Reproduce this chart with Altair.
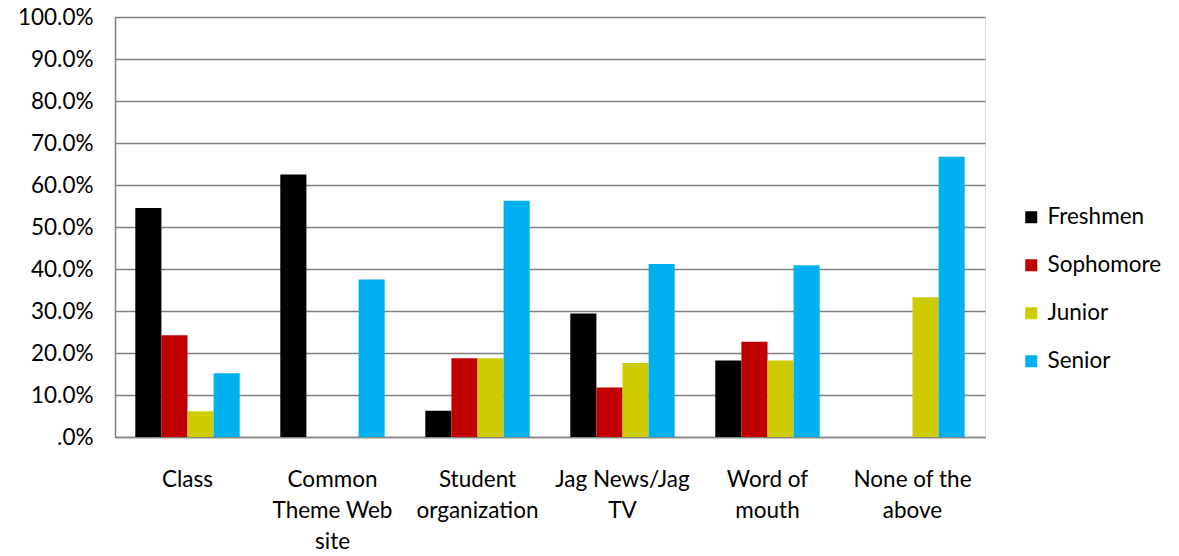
import altair as alt
import pandas as pd

categories = ["Class", "Common Theme Web site", "Student organization",
              "Jag News/Jag TV", "Word of mouth", "None of the above"]
cat_labels = ["Class", "Common|Theme Web|site", "Student|organization",
              "Jag News/Jag|TV", "Word of|mouth", "None of the|above"]
series = ["Freshmen", "Sophomore", "Junior", "Senior"]
freshmen = [54.5, 62.5, 6.25, 29.4, 18.2, 0.0]
sophomore = [24.2, 0.0, 18.75, 11.8, 22.7, 0.0]
junior = [6.1, 0.0, 18.75, 17.6, 18.2, 33.3]
senior = [15.2, 37.5, 56.25, 41.2, 40.9, 66.7]
colors = ["#000000", "#C00000", "#CCCC00", "#00B0F0"]

rows = []
for s, vals in zip(series, [freshmen, sophomore, junior, senior]):
    for c, lab, v in zip(categories, cat_labels, vals):
        rows.append({"cat": lab, "series": s, "value": v})
df = pd.DataFrame(rows)

FONT = "Lato"
FS = 22.5

chart = alt.Chart(df).mark_bar().encode(
    x=alt.X("cat:N", sort=cat_labels, title=None,
            scale=alt.Scale(paddingInner=0.28, paddingOuter=0.14),
            axis=alt.Axis(labelAngle=0, labelExpr="split(datum.label, '|')",
                          labelFontSize=FS, labelFont=FONT, labelColor="#000",
                          labelLineHeight=31, labelPadding=31, ticks=False,
                          domainColor="#868686", domainWidth=1.5,
                          labelBaseline="top")),
    xOffset=alt.XOffset("series:N", sort=series, scale=alt.Scale(paddingInner=0, paddingOuter=0)),
    y=alt.Y("value:Q", title=None,
            scale=alt.Scale(domain=[0, 100], nice=False),
            axis=alt.Axis(values=list(range(0, 101, 10)),
                          labelExpr="datum.value == 0 ? '.0%' : format(datum.value, '.1f') + '%'",
                          labelFontSize=FS, labelFont=FONT, labelColor="#000",
                          labelPadding=22, ticks=False, grid=True,
                          gridColor="#808080", gridWidth=1.5,
                          domainColor="#808080", domainWidth=1.5)),
    color=alt.Color("series:N", sort=series,
                    scale=alt.Scale(domain=series, range=colors),
                    legend=alt.Legend(title=None, orient="none", legendX=905, legendY=189,
                                      symbolType="square", symbolSize=144,
                                      symbolStrokeWidth=0,
                                      labelFontSize=FS, labelFont=FONT, labelColor="#000",
                                      rowPadding=25, labelOffset=5)),
).properties(
    width=870, height=420,
    autosize=alt.AutoSizeParams(type="none"),
    padding={"left": 107, "top": 9, "right": 185, "bottom": 114},
).configure_view(stroke=None).configure(background="white")

chart.save("out.html", embed_options={"renderer": "svg", "actions": False})
